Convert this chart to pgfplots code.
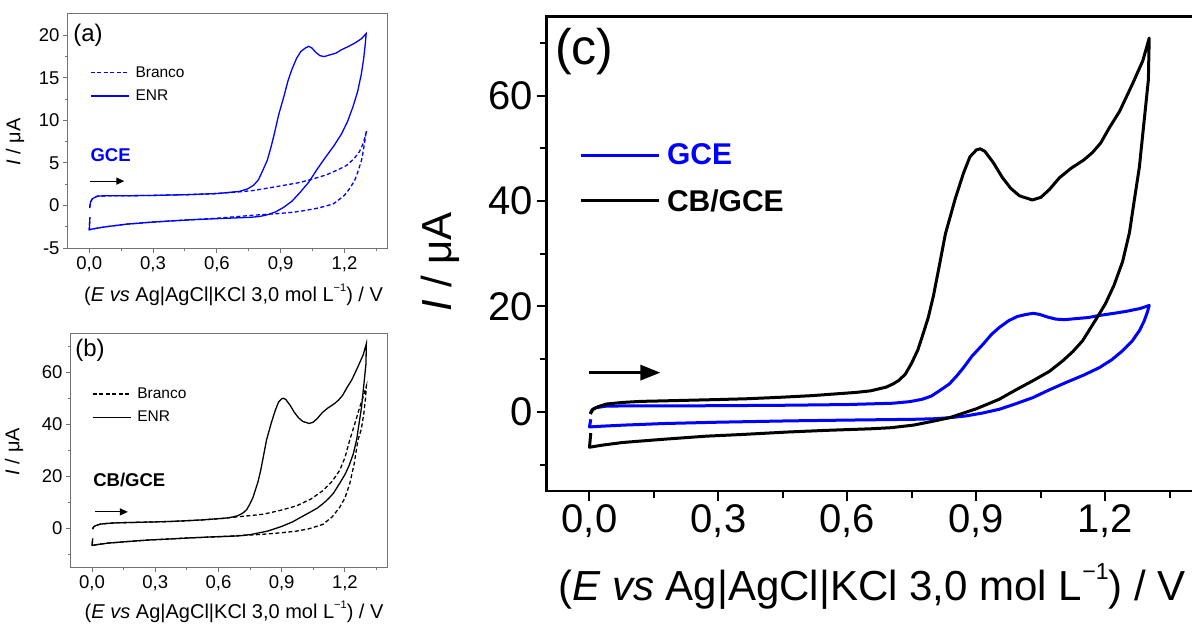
\documentclass[border=0pt]{standalone}
\usepackage{fontspec}
\setmainfont{Liberation Sans}
\usepackage{graphicx}
\usepackage{pgfplots}
\usepackage{pgfplotstable}
\pgfplotsset{compat=1.18}
\usetikzlibrary{arrows.meta}
\newcommand{\supmone}{\raisebox{0.5em}{\scalebox{0.55}{−1}}}

% GCE / ENR (blue)
\pgfplotstableread{
E I
0.002 -0.3
0.006 0.4
0.015 0.8
0.039 1.1
0.10 1.15
0.174 1.14
0.30 1.18
0.464 1.27
0.60 1.40
0.706 1.65
0.745 1.95
0.774 2.4
0.795 3.0
0.812 3.9
0.837 5.3
0.855 6.9
0.870 8.4
0.890 10.6
0.915 12.8
0.935 14.7
0.953 16.0
0.975 17.3
0.995 18.1
1.016 18.5
1.032 18.7
1.047 18.5
1.065 18.0
1.085 17.6
1.105 17.5
1.132 17.7
1.16 17.9
1.186 18.3
1.22 18.7
1.25 19.1
1.28 19.6
1.302 20.2
1.298 19.0
1.29 17.2
1.279 15.4
1.262 13.4
1.24 11.6
1.215 9.9
1.186 8.4
1.15 7.0
1.109 5.6
1.07 4.2
1.031 2.7
0.99 1.5
0.953 0.5
0.915 -0.2
0.876 -0.76
0.837 -1.1
0.80 -1.3
0.754 -1.4
0.60 -1.55
0.464 -1.7
0.30 -1.95
0.174 -2.2
0.08 -2.5
0.03 -2.7
0.0 -2.85
0.003 -1.4
}\gce

% Branco on GCE (blue dashed)
\pgfplotstableread{
E I
0.002 -0.3
0.006 0.4
0.015 0.8
0.039 1.1
0.10 1.15
0.174 1.14
0.30 1.18
0.464 1.27
0.60 1.40
0.705 1.6
0.77 1.75
0.83 2.0
0.90 2.3
0.99 2.7
1.05 3.1
1.115 3.6
1.17 4.2
1.21 4.7
1.245 5.5
1.27 6.3
1.29 7.4
1.304 8.8
1.30 8.3
1.296 7.6
1.287 6.2
1.28 5.3
1.265 4.1
1.249 3.0
1.225 2.0
1.2 1.2
1.17 0.6
1.146 0.16
1.1 -0.15
1.068 -0.35
1.0 -0.65
0.957 -0.8
0.89 -0.95
0.83 -1.05
0.77 -1.15
0.70 -1.3
0.60 -1.5
0.464 -1.7
0.30 -1.95
0.174 -2.2
0.08 -2.5
0.03 -2.7
0.0 -2.85
0.003 -1.4
}\gcebranco

% CB/GCE / ENR (black)
\pgfplotstableread{
E I
0.002 -0.4
0.008 0.5
0.02 1.0
0.04 1.5
0.077 1.8
0.12 2.0
0.174 2.1
0.30 2.35
0.367 2.5
0.45 2.8
0.52 3.1
0.561 3.35
0.62 3.7
0.654 4.0
0.69 4.7
0.706 5.3
0.72 6.0
0.735 7.2
0.749 9.2
0.764 11.8
0.776 14.8
0.788 17.9
0.800 22.0
0.812 27.0
0.828 33.8
0.851 40.5
0.870 45.3
0.885 48.4
0.90 49.7
0.909 49.9
0.92 49.4
0.94 47.2
0.96 44.5
0.98 42.4
1.00 41.0
1.03 40.2
1.05 40.7
1.07 42.2
1.093 44.4
1.12 46.2
1.15 47.8
1.17 49.2
1.189 51.0
1.21 54.0
1.233 57.0
1.263 62.2
1.287 66.6
1.302 70.9
1.300 63.0
1.295 59.0
1.287 52.7
1.279 46.4
1.267 40.0
1.256 34.0
1.24 28.5
1.22 24.0
1.20 20.5
1.18 17.8
1.147 13.5
1.125 11.5
1.101 9.7
1.07 7.7
1.031 5.9
0.99 4.1
0.953 2.4
0.90 0.6
0.837 -1.1
0.803 -1.7
0.754 -2.5
0.70 -3.0
0.654 -3.2
0.55 -3.5
0.464 -3.8
0.35 -4.3
0.271 -4.6
0.17 -5.2
0.077 -5.8
0.03 -6.3
0.0 -6.7
0.003 -4.0
}\cbgce

% Branco on CB/GCE (black dashed)
\pgfplotstableread{
E I
0.002 -0.4
0.008 0.5
0.02 1.0
0.04 1.5
0.077 1.8
0.12 2.0
0.174 2.1
0.30 2.35
0.367 2.5
0.45 2.8
0.52 3.1
0.561 3.35
0.62 3.7
0.654 4.0
0.73 4.6
0.812 5.3
0.89 6.7
0.97 8.5
1.04 11.2
1.096 14.4
1.14 18.0
1.175 22.1
1.2 27.0
1.223 33.8
1.245 39.5
1.265 45.0
1.285 50.0
1.302 54.5
1.298 50.0
1.29 44.0
1.278 38.0
1.262 33.8
1.245 25.0
1.223 17.0
1.2 11.5
1.175 7.9
1.14 4.3
1.096 1.4
1.03 -0.3
0.97 -1.2
0.89 -1.9
0.812 -2.4
0.73 -2.8
0.654 -3.1
0.55 -3.5
0.464 -3.8
0.35 -4.3
0.271 -4.6
0.17 -5.2
0.077 -5.8
0.03 -6.3
0.0 -6.7
0.003 -4.0
}\cbbranco

\pgfplotsset{
  common/.style={
    scale only axis, anchor=south west,
    xmin=-0.1, xmax=1.4,
    xtick={0,0.3,0.6,0.9,1.2},
    xticklabels={{0,0},{0,3},{0,6},{0,9},{1,2}},
    minor xtick={0.15,0.45,0.75,1.05,1.35},
    tick align=outside, tick pos=left,
    /pgf/number format/assume math mode=true,
    legend cell align=left,
    clip=false,
  },
  small/.style={
    common,
    major tick length=5pt, minor tick length=3pt,
    axis line style={draw=black!55, line width=1pt},
    tick style={draw=black!55, line width=1pt},
    tick label style={font=\fontsize{18.5}{22}\selectfont},
    label style={font=\fontsize{20}{24}\selectfont},
    xlabel={(\textit{E} \textit{vs} Ag|AgCl|KCl 3,0 mol L\supmone) / V},
    ylabel={\textit{I} / μA},
    legend image code/.code={\draw[##1] (0pt,0pt) -- (38pt,0pt);},
    legend style={draw=none, fill=none, anchor=north west, inner sep=0pt,
      font=\fontsize{15.5}{18}\selectfont, column sep=5pt, row sep=9pt,
      nodes={inner sep=1pt}},
  },
}

\begin{document}
\begin{tikzpicture}
\path[use as bounding box] (0,0) rectangle (1192pt,625pt);

% ---------------- (a)
\begin{axis}[small,
  at={(68pt,377pt)}, width=319pt, height=234pt,
  ymin=-5, ymax=22.5,
  ytick={-5,0,5,10,15,20}, minor ytick={-2.5,2.5,7.5,12.5,17.5},
  xlabel style={at={(axis description cs:0.519,-0.2)}, anchor=center},
  ylabel style={at={(axis description cs:-0.166,0.453)}, anchor=center},
  legend style={at={(axis description cs:0.069,0.78)}},
]
\addplot[blue, line width=1.3pt, dash pattern=on 4pt off 2.5pt] table[x=E,y=I] {\gcebranco};
\addlegendentry{Branco}
\addplot[blue, line width=1.3pt] table[x=E,y=I] {\gce};
\addlegendentry{ENR}
\node[anchor=west, inner sep=0pt, font=\fontsize{24}{28}\selectfont] at (axis description cs:0.016,0.91) {(a)};
\node[anchor=west, inner sep=0pt, text=blue, font=\bfseries\fontsize{18.5}{22}\selectfont] at (axis cs:0.005,5.9) {GCE};
\draw[-{Triangle[length=8pt,width=7pt]}, line width=1.2pt] (axis cs:0.003,2.86) -- (axis cs:0.165,2.86);
\end{axis}

% ---------------- (b)
\begin{axis}[small,
  at={(71pt,58pt)}, width=316pt, height=234pt,
  ymin=-15, ymax=75,
  ytick={0,20,40,60}, minor ytick={-10,10,30,50,70},
  xlabel style={at={(axis description cs:0.516,-0.191)}, anchor=center},
  ylabel style={at={(axis description cs:-0.18,0.493)}, anchor=center},
  legend style={at={(axis description cs:0.066,0.77)}},
]
\addplot[black, line width=1.3pt, dash pattern=on 4pt off 2.5pt] table[x=E,y=I] {\cbbranco};
\addlegendentry{Branco}
\addplot[black, line width=1.3pt] table[x=E,y=I] {\cbgce};
\addlegendentry{ENR}
\node[anchor=west, inner sep=0pt, font=\fontsize{24}{28}\selectfont] at (axis description cs:0.013,0.927) {(b)};
\node[anchor=west, inner sep=0pt, font=\bfseries\fontsize{18.5}{22}\selectfont] at (axis cs:0.005,18.6) {CB/GCE};
\draw[-{Triangle[length=8pt,width=7pt]}, line width=1.2pt] (axis cs:0.014,6.2) -- (axis cs:0.17,6.2);
\end{axis}

% ---------------- (c)
\begin{axis}[common,
  at={(546.5pt,134pt)}, width=647pt, height=474.5pt,
  xmax=1.405,
  ymin=-15, ymax=75,
  ytick={0,20,40,60}, minor ytick={-10,10,30,50,70},
  major tick length=10pt, minor tick length=7pt,
  axis line style={line width=2.5pt},
  tick style={black, line width=2pt},
  tick label style={font=\fontsize{40}{46}\selectfont},
  label style={font=\fontsize{42}{48}\selectfont},
  xlabel={(\textit{E} \textit{vs} Ag|AgCl|KCl 3,0 mol L\supmone) / V},
  ylabel={\textit{I} / μA},
  xlabel style={at={(axis description cs:0.503,-0.202)}, anchor=center},
  ylabel style={at={(axis description cs:-0.1646,0.483)}, anchor=center},
  legend image code/.code={\draw[#1] (0pt,0pt) -- (78pt,0pt);},
  legend style={draw=none, fill=none, anchor=north west, inner sep=0pt,
    at={(axis description cs:0.05,0.734)},
    font=\bfseries\fontsize{30}{34}\selectfont, column sep=6pt, row sep=21pt,
    nodes={inner sep=1pt}},
]
\addplot[blue, line width=3pt, line join=round] table[x=E,y=I] {\gce};
\addlegendentry{\textcolor{blue}{GCE}}
\addplot[black, line width=3pt, line join=round] table[x=E,y=I] {\cbgce};
\addlegendentry{CB/GCE}
\node[anchor=west, inner sep=0pt, font=\fontsize{50}{56}\selectfont] at (axis description cs:0.013,0.927) {(c)};
\draw[-{Triangle[length=20pt,width=15pt]}, line width=3pt] (axis cs:0,7.45) -- (axis cs:0.165,7.45);
\end{axis}
\end{tikzpicture}
\end{document}
